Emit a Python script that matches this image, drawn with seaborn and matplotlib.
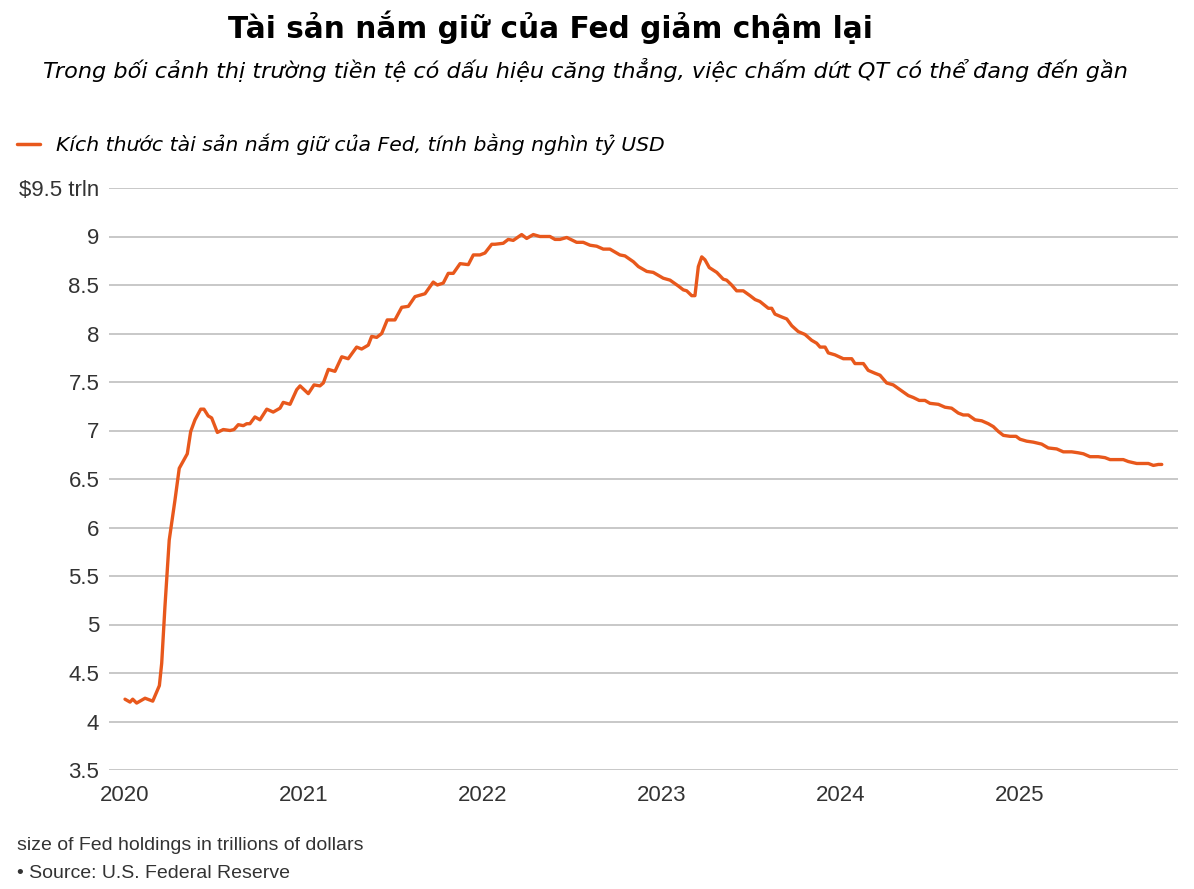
import numpy as np
import pandas as pd
import matplotlib
matplotlib.use('Agg')
import matplotlib.pyplot as plt
import seaborn as sns

# Fed holdings, trillions of USD (decimal year, value)
years = [
    2020.000, 2020.028, 2020.043, 2020.065, 2020.112, 2020.155, 2020.192, 2020.205,
    2020.223, 2020.247, 2020.279, 2020.303, 2020.348, 2020.367, 2020.391, 2020.423,
    2020.441, 2020.465, 2020.484, 2020.516, 2020.549, 2020.587, 2020.609, 2020.633,
    2020.661, 2020.680, 2020.698, 2020.726, 2020.754, 2020.792, 2020.828, 2020.866,
    2020.884, 2020.922, 2020.959, 2020.978, 2021.024, 2021.056, 2021.089, 2021.108,
    2021.136, 2021.173, 2021.211, 2021.247, 2021.294, 2021.322, 2021.359, 2021.378,
    2021.406, 2021.434, 2021.465, 2021.508, 2021.546, 2021.583, 2021.620, 2021.676,
    2021.722, 2021.745, 2021.778, 2021.806, 2021.834, 2021.872, 2021.918, 2021.946,
    2021.983, 2022.011, 2022.049, 2022.067, 2022.113, 2022.141, 2022.169, 2022.216,
    2022.244, 2022.281, 2022.318, 2022.374, 2022.402, 2022.430, 2022.468, 2022.523,
    2022.560, 2022.598, 2022.635, 2022.672, 2022.709, 2022.765, 2022.793, 2022.840,
    2022.868, 2022.915, 2022.951, 2023.007, 2023.045, 2023.091, 2023.119, 2023.138,
    2023.166, 2023.184, 2023.203, 2023.222, 2023.240, 2023.264, 2023.306, 2023.342,
    2023.361, 2023.389, 2023.417, 2023.454, 2023.492, 2023.520, 2023.547, 2023.594,
    2023.613, 2023.631, 2023.669, 2023.697, 2023.725, 2023.761, 2023.799, 2023.836,
    2023.864, 2023.883, 2023.911, 2023.929, 2023.966, 2024.013, 2024.060, 2024.078,
    2024.125, 2024.152, 2024.190, 2024.218, 2024.255, 2024.292, 2024.330, 2024.376,
    2024.404, 2024.437, 2024.469, 2024.497, 2024.544, 2024.581, 2024.618, 2024.655,
    2024.683, 2024.711, 2024.749, 2024.786, 2024.823, 2024.851, 2024.879, 2024.907,
    2024.944, 2024.978, 2025.000, 2025.037, 2025.074, 2025.121, 2025.158, 2025.205,
    2025.242, 2025.289, 2025.326, 2025.354, 2025.391, 2025.437, 2025.475, 2025.503,
    2025.540, 2025.577, 2025.605, 2025.652, 2025.689, 2025.717, 2025.745, 2025.773,
    2025.792,
]
holdings = [
    4.23, 4.20, 4.23, 4.19, 4.24, 4.21, 4.37, 4.60,
    5.18, 5.87, 6.28, 6.61, 6.76, 6.99, 7.11, 7.22,
    7.22, 7.15, 7.13, 6.98, 7.01, 7.00, 7.01, 7.06,
    7.05, 7.07, 7.07, 7.14, 7.11, 7.22, 7.19, 7.23,
    7.29, 7.27, 7.42, 7.46, 7.38, 7.47, 7.46, 7.49,
    7.63, 7.61, 7.76, 7.74, 7.86, 7.84, 7.88, 7.97,
    7.96, 8.00, 8.14, 8.14, 8.27, 8.28, 8.38, 8.41,
    8.53, 8.50, 8.52, 8.62, 8.62, 8.72, 8.71, 8.81,
    8.81, 8.83, 8.92, 8.92, 8.93, 8.97, 8.96, 9.02,
    8.98, 9.02, 9.00, 9.00, 8.97, 8.97, 8.99, 8.94,
    8.94, 8.91, 8.90, 8.87, 8.87, 8.81, 8.80, 8.74,
    8.69, 8.64, 8.63, 8.57, 8.55, 8.49, 8.45, 8.44,
    8.39, 8.39, 8.69, 8.79, 8.76, 8.68, 8.63, 8.56,
    8.55, 8.50, 8.44, 8.44, 8.39, 8.35, 8.33, 8.26,
    8.26, 8.20, 8.17, 8.15, 8.08, 8.02, 7.99, 7.93,
    7.90, 7.86, 7.86, 7.80, 7.78, 7.74, 7.74, 7.69,
    7.69, 7.62, 7.59, 7.57, 7.49, 7.47, 7.42, 7.36,
    7.34, 7.31, 7.31, 7.28, 7.27, 7.24, 7.23, 7.18,
    7.16, 7.16, 7.11, 7.10, 7.07, 7.04, 6.99, 6.95,
    6.94, 6.94, 6.91, 6.89, 6.88, 6.86, 6.82, 6.81,
    6.78, 6.78, 6.77, 6.76, 6.73, 6.73, 6.72, 6.70,
    6.70, 6.70, 6.68, 6.66, 6.66, 6.66, 6.64, 6.65,
    6.65,
]

year_ticks = [2020, 2021, 2022, 2023, 2024, 2025]
y_ticks = [3.5, 4, 4.5, 5, 5.5, 6, 6.5, 7, 7.5, 8, 8.5, 9, 9.5]
y_labels = ['3.5', '4', '4.5', '5', '5.5', '6', '6.5', '7', '7.5', '8', '8.5', '9', '$9.5 trln']

title = 'Tài sản nắm giữ của Fed giảm chậm lại'
subtitle = 'Trong bối cảnh thị trường tiền tệ có dấu hiệu căng thẳng, việc chấm dứt QT có thể đang đến gần'
legend_label = 'Kích thước tài sản nắm giữ của Fed, tính bằng nghìn tỷ USD'
note = 'size of Fed holdings in trillions of dollars'
source = '• Source: U.S. Federal Reserve'

df = pd.DataFrame({'year': years, 'holdings': holdings})

sns.set_style('white')
plt.rcParams['font.family'] = ['Liberation Sans', 'DejaVu Sans']

orange = '#e8581c'

fig = plt.figure(figsize=(11.94, 8.89), dpi=100)
ax = fig.add_axes([109 / 1194, 1 - 770 / 889, (1178 - 109) / 1194, (770 - 188) / 889])

sns.lineplot(data=df, x='year', y='holdings', ax=ax, color=orange, linewidth=2.4)

ax.set_xlim(2020 + (109 - 125) / 179, 2020 + (1178 - 125) / 179)
ax.set_ylim(3.5, 9.5)
ax.set_yticks(y_ticks)
ax.set_yticklabels(y_labels)
ax.set_xticks(year_ticks)
ax.set_xticklabels([str(y) for y in year_ticks])
ax.set_xlabel('')
ax.set_ylabel('')
ax.grid(axis='y', color='#c8c8c8', linewidth=1.4)
ax.grid(axis='x', visible=False)
ax.set_axisbelow(True)
for s in ax.spines.values():
    s.set_visible(False)
ax.tick_params(axis='y', length=0, pad=7, labelsize=16, labelcolor='#333333')
ax.tick_params(axis='x', length=0, pad=11, labelsize=16, labelcolor='#333333')

fig.text(550 / 1194, 1 - 27 / 889, title, ha='center', va='center',
         fontsize=21.3, fontweight='bold', family=['DejaVu Sans'], color='black')
fig.text(585 / 1194, 1 - 70 / 889, subtitle, ha='center', va='center',
         fontsize=16.1, style='italic', family=['DejaVu Sans'], color='black')

# legend: short line + italic label
fig.lines.append(plt.Line2D([17 / 1194, 40 / 1194], [1 - 144 / 889] * 2,
                            transform=fig.transFigure, color=orange, linewidth=2.5))
fig.text(56 / 1194, 1 - 144 / 889, legend_label, ha='left', va='center',
         fontsize=14.7, style='italic', family=['DejaVu Sans'], color='black')

fig.text(17 / 1194, 1 - 845 / 889, note, ha='left', va='center', fontsize=14, color='#333333')
fig.text(17 / 1194, 1 - 874 / 889, source, ha='left', va='center', fontsize=14, color='#333333')

fig.savefig('out.png', dpi=100)
